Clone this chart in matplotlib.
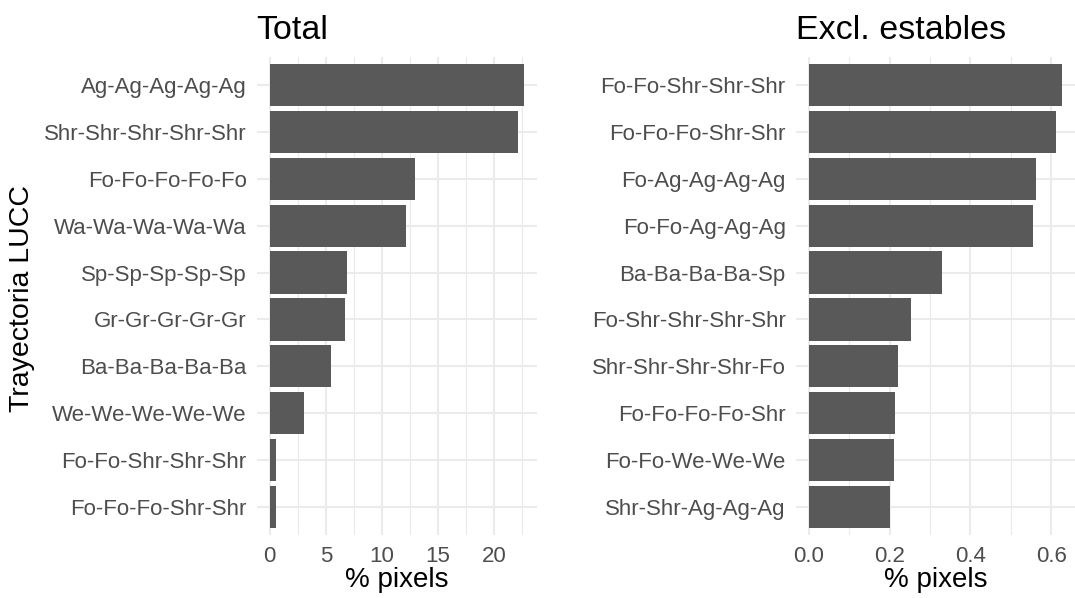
import numpy as np
import matplotlib
matplotlib.use("Agg")
import matplotlib.pyplot as plt

plt.rcParams['font.family'] = ['Liberation Sans', 'DejaVu Sans']

# Left panel: all trajectories
total_labels = ['Ag-Ag-Ag-Ag-Ag', 'Shr-Shr-Shr-Shr-Shr', 'Fo-Fo-Fo-Fo-Fo', 'Wa-Wa-Wa-Wa-Wa',
                'Sp-Sp-Sp-Sp-Sp', 'Gr-Gr-Gr-Gr-Gr', 'Ba-Ba-Ba-Ba-Ba', 'We-We-We-We-We',
                'Fo-Fo-Shr-Shr-Shr', 'Fo-Fo-Fo-Shr-Shr']
total_values = [22.68, 22.13, 12.95, 12.18, 6.87, 6.67, 5.48, 3.02, 0.59, 0.57]

# Right panel: excluding stable trajectories
excl_labels = ['Fo-Fo-Shr-Shr-Shr', 'Fo-Fo-Fo-Shr-Shr', 'Fo-Ag-Ag-Ag-Ag', 'Fo-Fo-Ag-Ag-Ag',
               'Ba-Ba-Ba-Ba-Sp', 'Fo-Shr-Shr-Shr-Shr', 'Shr-Shr-Shr-Shr-Fo', 'Fo-Fo-Fo-Fo-Shr',
               'Fo-Fo-We-We-We', 'Shr-Shr-Ag-Ag-Ag']
excl_values = [0.627, 0.612, 0.561, 0.555, 0.329, 0.252, 0.220, 0.214, 0.211, 0.201]

total_ticks = [0, 5, 10, 15, 20]
total_minor = [2.5, 7.5, 12.5, 17.5, 22.5]
excl_ticks = [0.0, 0.2, 0.4, 0.6]
excl_minor = [0.1, 0.3, 0.5]

W, H = 1075, 598
fig = plt.figure(figsize=(W / 100, H / 100), dpi=100)

bar_col = '#595959'
grid_col = '#EBEBEB'
tick_col = '#4D4D4D'


def panel(rect, labels, values, ticks, minor, ticklabels, title):
    ax = fig.add_axes(rect)
    n = len(labels)
    ypos = np.arange(n)[::-1] + 1
    ax.barh(ypos, values, height=0.9, color=bar_col, zorder=3)
    vmax = max(values)
    ax.set_xlim(-0.05 * vmax, 1.05 * vmax)
    ax.set_ylim(0.4, n + 0.6)
    ax.set_yticks(ypos)
    ax.set_yticklabels(labels)
    ax.set_xticks(ticks)
    ax.set_xticklabels(ticklabels)
    ax.set_xticks(minor, minor=True)
    ax.tick_params(axis='both', which='both', length=0, labelsize=16, labelcolor=tick_col)
    ax.tick_params(axis='y', pad=7.4)
    ax.tick_params(axis='x', pad=8)
    for x in ticks:
        ax.axvline(x, color=grid_col, lw=1.5, zorder=1)
    for x in minor:
        ax.axvline(x, color=grid_col, lw=0.9, zorder=1)
    for y in ypos:
        ax.axhline(y, color=grid_col, lw=1.5, zorder=1)
    for s in ax.spines.values():
        s.set_visible(False)
    ax.set_xlabel('% pixels', fontsize=20, labelpad=0)
    l, b, w, h = rect
    fig.text(l - 0.5 / W, 1 - 39 / H, title, fontsize=24.5, ha='left', va='baseline')
    return ax


ax1 = panel([257 / W, 1 - 535 / H, 280 / W, 478 / H], total_labels, total_values,
            total_ticks, total_minor, ['0', '5', '10', '15', '20'], 'Total')
ax2 = panel([796 / W, 1 - 535 / H, 279 / W, 478 / H], excl_labels, excl_values,
            excl_ticks, excl_minor, ['0.0', '0.2', '0.4', '0.6'], 'Excl. estables')

fig.text(22 / W, 1 - 299 / H, 'Trayectoria LUCC', fontsize=20.5, rotation=90,
         ha='center', va='center')

fig.savefig('out.png', dpi=100)
